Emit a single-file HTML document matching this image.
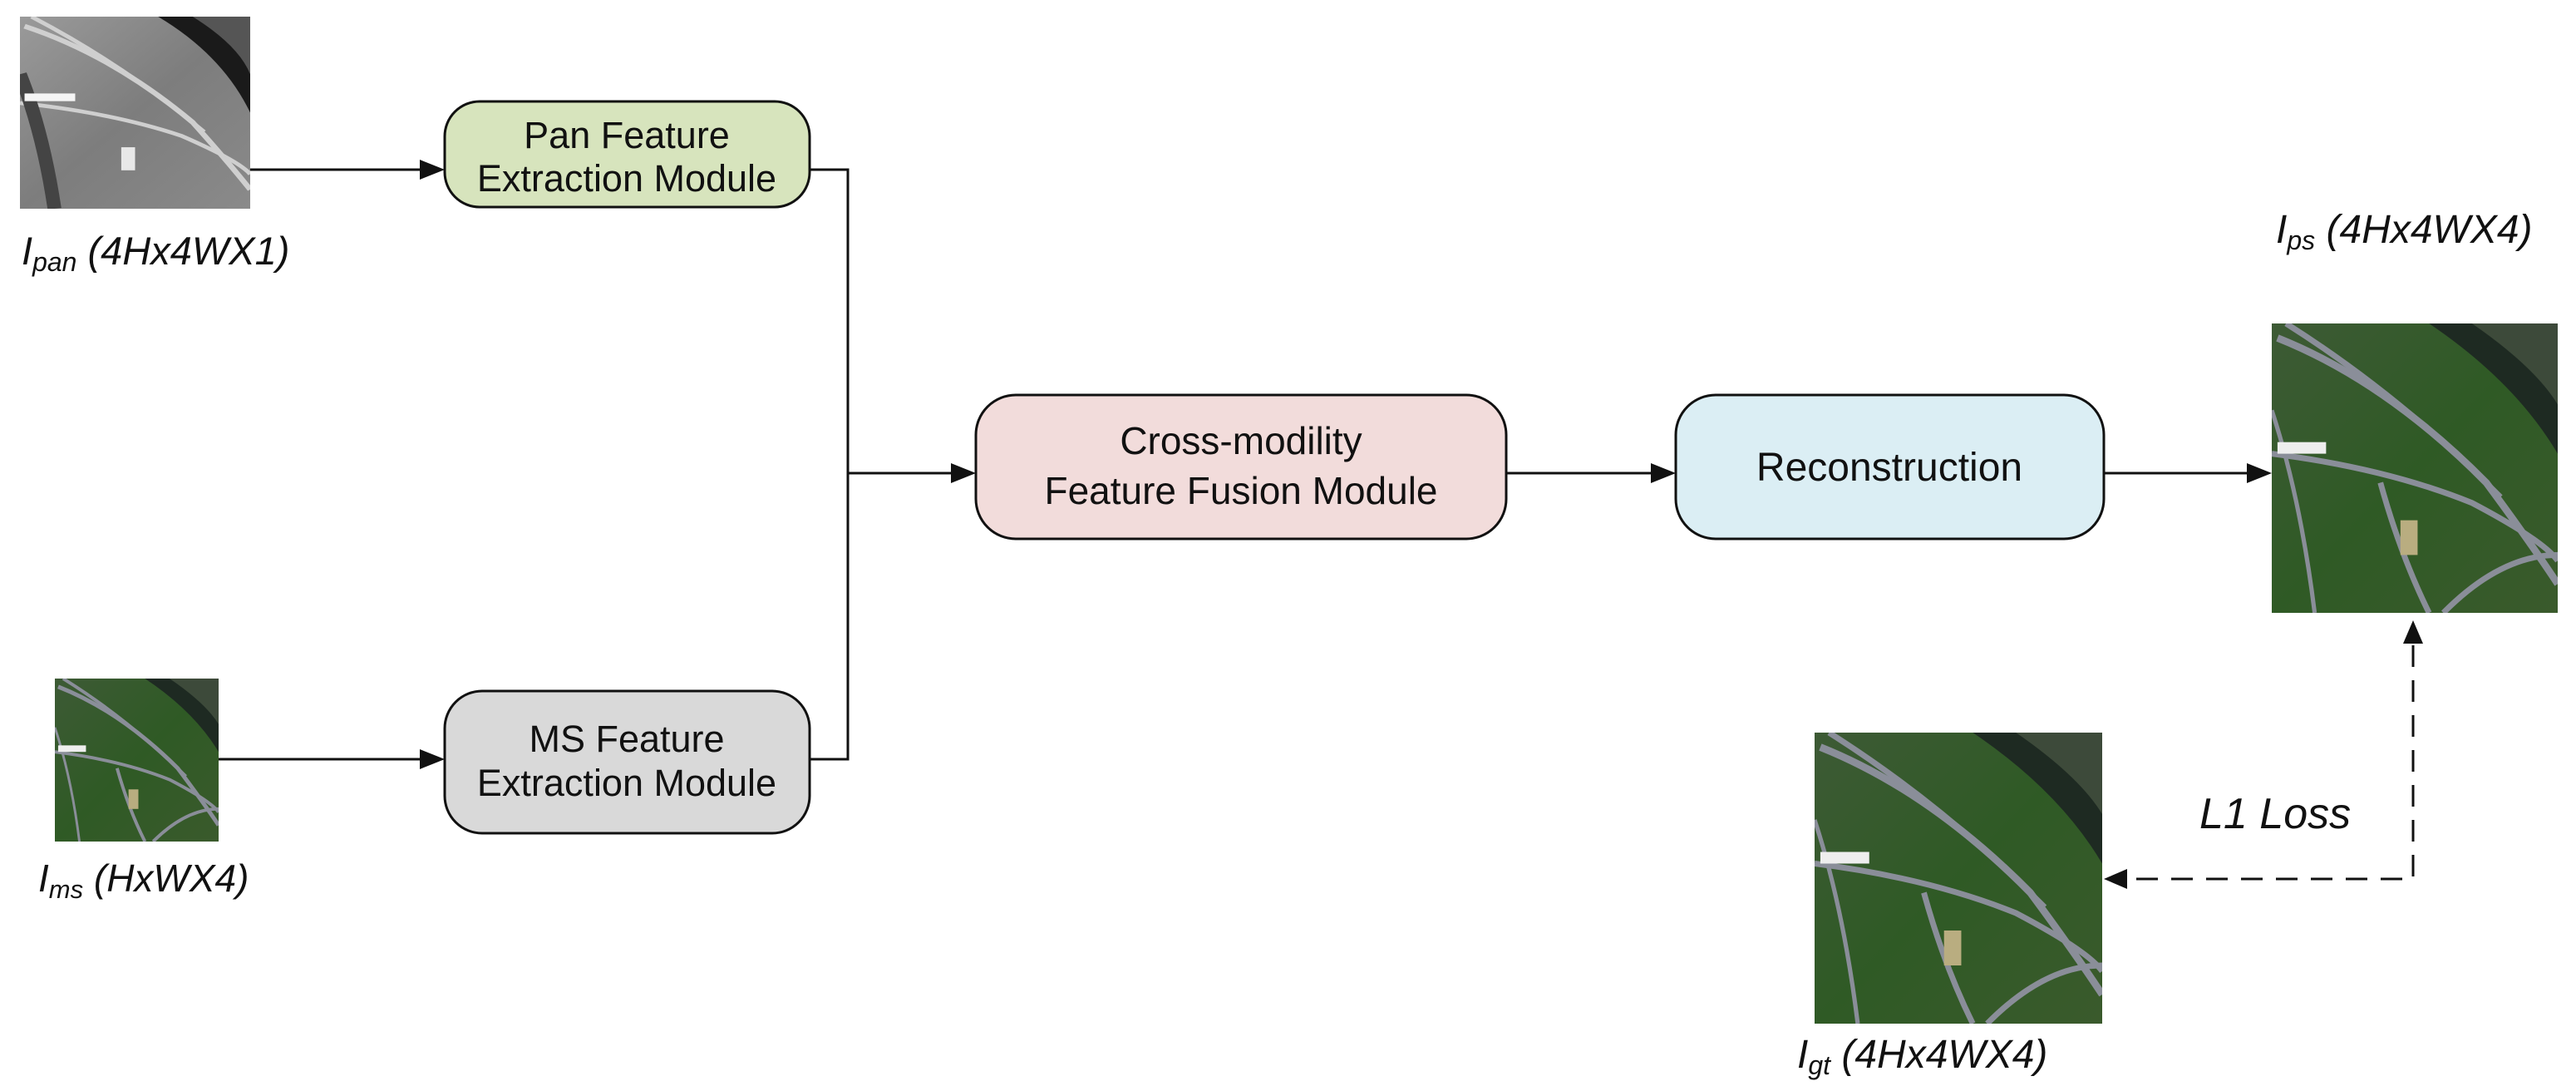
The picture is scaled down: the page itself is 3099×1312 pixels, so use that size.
<!DOCTYPE html>
<html><head><meta charset="utf-8"><style>
html,body{margin:0;padding:0;background:#fff;}
svg{display:block;}
text{font-family:"Liberation Sans",sans-serif;fill:#111;}
</style></head><body>
<svg width="3099" height="1312" viewBox="0 0 3099 1312" xmlns="http://www.w3.org/2000/svg">
<defs>
<linearGradient id="gray" x1="0" y1="0" x2="1" y2="1">
<stop offset="0" stop-color="#9a9a9a"/><stop offset="0.5" stop-color="#7d7d7d"/><stop offset="1" stop-color="#8a8a8a"/></linearGradient>
<linearGradient id="grn" x1="0" y1="0" x2="1" y2="1">
<stop offset="0" stop-color="#3d5a35"/><stop offset="0.5" stop-color="#2f5a25"/><stop offset="1" stop-color="#3a5a2c"/></linearGradient>
<g id="sat">
<rect x="0" y="0" width="100" height="100" fill="url(#grn)"/>
<path d="M55 0 Q85 20 100 45 L100 0Z" fill="#1e2a22"/>
<path d="M70 0 Q92 15 100 28 L100 0Z" fill="#3d4a3a"/>
<path d="M2 5 Q40 20 75 55 Q90 75 100 90" stroke="#8a8e99" stroke-width="2.5" fill="none"/>
<path d="M5 0 Q45 25 80 60" stroke="#8a8e99" stroke-width="2" fill="none"/>
<path d="M0 45 Q40 50 70 62 Q95 75 100 82" stroke="#8a8e99" stroke-width="2" fill="none"/>
<path d="M38 55 Q45 80 55 100" stroke="#8a8e99" stroke-width="2" fill="none"/>
<path d="M0 30 Q10 60 15 100" stroke="#8a8e99" stroke-width="1.5" fill="none"/>
<rect x="2" y="41" width="17" height="4" fill="#eee"/>
<rect x="45" y="68" width="6" height="12" fill="#b9ad80"/>
<path d="M60 100 Q80 80 100 80" stroke="#8a8e99" stroke-width="2" fill="none"/>
</g>
</defs>

<svg x="24" y="20" width="277" height="231" viewBox="0 0 100 100" preserveAspectRatio="none">
<rect width="100" height="100" fill="url(#gray)"/>
<path d="M60 0 Q88 20 100 50 L100 0Z" fill="#1a1a1a"/>
<path d="M75 0 Q95 15 100 30 L100 0Z" fill="#555"/>
<path d="M2 5 Q40 20 75 55 Q90 75 100 90" stroke="#cfcfcf" stroke-width="2.5" fill="none"/>
<path d="M5 0 Q45 25 80 60" stroke="#cfcfcf" stroke-width="2" fill="none"/>
<path d="M0 45 Q40 50 70 62 Q95 75 100 82" stroke="#cfcfcf" stroke-width="2" fill="none"/>
<path d="M0 30 Q10 60 15 100" stroke="#444" stroke-width="6" fill="none"/>
<rect x="2" y="40" width="22" height="4" fill="#f5f5f5"/>
<rect x="44" y="68" width="6" height="12" fill="#e8e8e8"/>
</svg>
<text x="26" y="318" font-size="47" font-style="italic">I<tspan font-size="32" dy="8">pan</tspan><tspan dy="-8"> (4Hx4WX1)</tspan></text>

<svg x="66" y="816" width="197" height="196" viewBox="0 0 100 100" preserveAspectRatio="none"><use href="#sat"/></svg>
<text x="46" y="1072" font-size="46" font-style="italic">I<tspan font-size="31" dy="8">ms</tspan><tspan dy="-8"> (HxWX4)</tspan></text>

<rect x="535" y="122" width="439" height="127" rx="42" fill="#d7e4bd" stroke="#111" stroke-width="3"/>
<text x="754" y="178" font-size="45" text-anchor="middle">Pan Feature</text>
<text x="754" y="230" font-size="45" text-anchor="middle">Extraction Module</text>

<rect x="535" y="831" width="439" height="171" rx="45" fill="#d9d9d9" stroke="#111" stroke-width="3"/>
<text x="754" y="904" font-size="45" text-anchor="middle">MS Feature</text>
<text x="754" y="957" font-size="45" text-anchor="middle">Extraction Module</text>

<rect x="1174" y="475" width="638" height="173" rx="48" fill="#f2dcdb" stroke="#111" stroke-width="3"/>
<text x="1493" y="546" font-size="46" text-anchor="middle">Cross-modility</text>
<text x="1493" y="606" font-size="46" text-anchor="middle">Feature Fusion Module</text>

<rect x="2016" y="475" width="515" height="173" rx="48" fill="#dbeef4" stroke="#111" stroke-width="3"/>
<text x="2273" y="578" font-size="48" text-anchor="middle">Reconstruction</text>

<g stroke="#111" stroke-width="3" fill="none">
<line x1="301" y1="204" x2="505" y2="204"/>
<line x1="263" y1="913" x2="505" y2="913"/>
<polyline points="974,204 1020,204 1020,913 974,913"/>
<line x1="1020" y1="569" x2="1145" y2="569"/>
<line x1="1812" y1="569" x2="1987" y2="569"/>
<line x1="2531" y1="569" x2="2704" y2="569"/>
<polyline points="2903,776 2903,1057 2560,1057" stroke-dasharray="26,16"/>
</g>
<g fill="#111">
<polygon points="535,204 505,192 505,216"/>
<polygon points="535,913 505,901 505,925"/>
<polygon points="1174,569 1144,557 1144,581"/>
<polygon points="2016,569 1986,557 1986,581"/>
<polygon points="2733,569 2703,557 2703,581"/>
<polygon points="2903,746 2891,774 2915,774"/>
<polygon points="2531,1057 2559,1045 2559,1069"/>
</g>

<text x="2738" y="292" font-size="48" font-style="italic">I<tspan font-size="32" dy="8">ps</tspan><tspan dy="-8"> (4Hx4WX4)</tspan></text>
<svg x="2733" y="389" width="344" height="348" viewBox="0 0 100 100" preserveAspectRatio="none"><use href="#sat"/></svg>

<svg x="2183" y="881" width="346" height="350" viewBox="0 0 100 100" preserveAspectRatio="none"><use href="#sat"/></svg>
<text x="2162" y="1284" font-size="48" font-style="italic">I<tspan font-size="32" dy="8">gt</tspan><tspan dy="-8"> (4Hx4WX4)</tspan></text>

<text x="2646" y="996" font-size="52" font-style="italic">L1 Loss</text>
</svg>
</body></html>
